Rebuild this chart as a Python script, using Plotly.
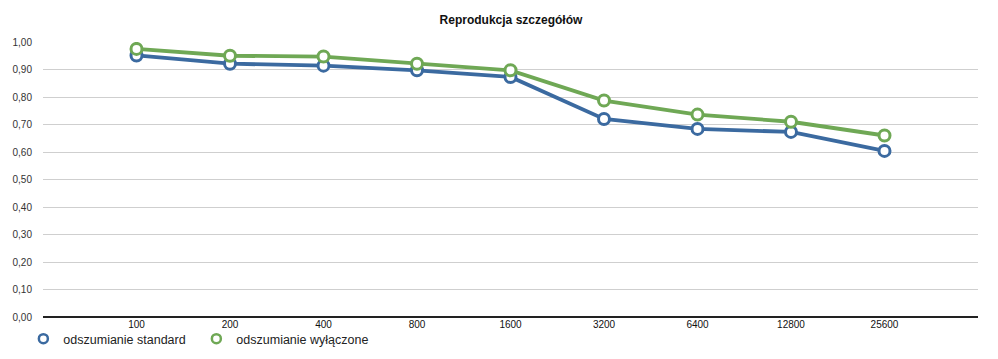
import plotly.graph_objects as go

categories = ["100", "200", "400", "800", "1600", "3200", "6400", "12800", "25600"]
standard = [0.951, 0.921, 0.914, 0.897, 0.873, 0.720, 0.684, 0.673, 0.604]
wylaczone = [0.975, 0.950, 0.947, 0.921, 0.897, 0.787, 0.736, 0.710, 0.660]
y_ticks = [0.0, 0.1, 0.2, 0.3, 0.4, 0.5, 0.6, 0.7, 0.8, 0.9, 1.0]

BLUE = "#3b6aa0"
GREEN = "#6fa855"

fig = go.Figure()
for name, vals, col in [("odszumianie standard", standard, BLUE),
                        ("odszumianie wyłączone", wylaczone, GREEN)]:
    fig.add_trace(go.Scatter(
        x=categories, y=vals, name=name, mode="lines+markers",
        line=dict(color=col, width=3.8),
        marker=dict(symbol="circle", size=11, color="white",
                    line=dict(color=col, width=3)),
        showlegend=False,
    ))
    # legend entry: marker only
    fig.add_trace(go.Scatter(
        x=[None], y=[None], name=name, mode="markers",
        marker=dict(symbol="circle", size=9, color="white",
                    line=dict(color=col, width=2.5)),
        showlegend=True,
    ))

fig.update_layout(
    width=998, height=359,
    margin=dict(l=43, r=20, t=42, b=42, autoexpand=False),
    paper_bgcolor="white", plot_bgcolor="white",
    separators=", ",
    font=dict(family="Liberation Sans, Arial, sans-serif", color="#222"),
    title=dict(text="<b>Reprodukcja szczegółów</b>", x=0.512, xanchor="center",
               y=0.945, yanchor="middle", font=dict(size=12, color="#111")),
    showlegend=True,
    legend=dict(orientation="h", x=-0.021, xanchor="left", y=-0.08, yanchor="middle",
                font=dict(size=12.5, color="#222"), itemwidth=30, entrywidth=128,
                tracegroupgap=0, bgcolor="rgba(0,0,0,0)"),
    xaxis=dict(type="category", range=[-1, 9], showgrid=False, zeroline=False,
               showline=False, ticks="", tickfont=dict(size=10, color="#111"),
               automargin=False, fixedrange=True),
    yaxis=dict(range=[0, 1.0], tickvals=y_ticks, tickformat=".2f",
               showgrid=True, gridcolor="#cfcfcf", gridwidth=1,
               zeroline=True, zerolinecolor="#222", zerolinewidth=1.5,
               showline=False, ticks="", ticklabelstandoff=10,
               tickfont=dict(size=10, color="#333"), automargin=False,
               fixedrange=True),
)

fig.write_html("out.html", config={"displayModeBar": False},
               post_script="document.body.style.margin='0';")
